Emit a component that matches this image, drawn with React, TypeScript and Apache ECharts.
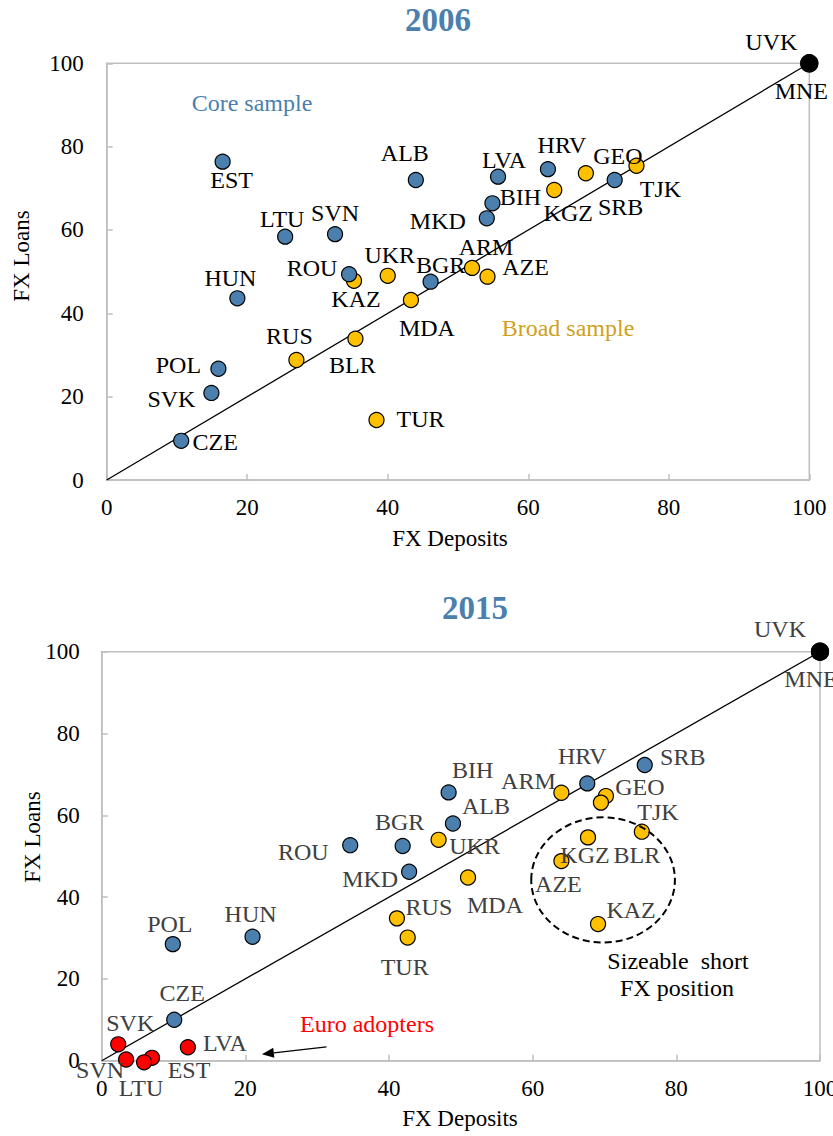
import React, { useEffect, useRef } from "react";
import * as echarts from "echarts";

// ---------- 2006 ----------
const core2006Names = ["EST", "ALB", "LVA", "HRV", "SRB", "MKD", "BIH", "LTU", "SVN", "BGR", "ROU", "HUN", "POL", "SVK", "CZE"];
const core2006Deposits = [16.5, 44.0, 55.7, 62.8, 72.3, 54.1, 54.9, 25.4, 32.5, 46.1, 34.5, 18.6, 15.9, 14.9, 10.6];
const core2006Loans = [76.4, 72.0, 72.8, 74.6, 72.0, 62.8, 66.4, 58.4, 59.0, 47.6, 49.4, 43.6, 26.7, 20.9, 9.4];

const broad2006Names = ["GEO", "TJK", "KGZ", "KAZ", "UKR", "ARM", "AZE", "MDA", "RUS", "BLR", "TUR"];
const broad2006Deposits = [68.2, 75.4, 63.7, 35.2, 40.0, 52.0, 54.2, 43.3, 27.0, 35.4, 38.4];
const broad2006Loans = [73.6, 75.4, 69.6, 47.8, 49.0, 50.9, 48.8, 43.2, 28.8, 33.9, 14.4];

// ---------- 2015 ----------
const euro2015Names = ["SVK", "SVN", "EST", "LTU", "LVA"];
const euro2015Deposits = [2.3, 3.4, 7.0, 5.9, 12.0];
const euro2015Loans = [4.0, 0.3, 0.7, -0.4, 3.3];

const broad2015Names = ["ARM", "GEO", "TJK", "BLR", "KGZ", "AZE", "KAZ", "UKR", "MDA", "RUS", "TUR"];
const broad2015Deposits = [64.0, 70.2, 69.5, 75.2, 67.7, 64.0, 69.1, 46.9, 51.0, 41.1, 42.6];
const broad2015Loans = [65.5, 64.7, 63.1, 56.0, 54.6, 48.8, 33.4, 54.0, 44.8, 34.8, 30.1];

const core2015Names = ["HRV", "SRB", "BIH", "ALB", "BGR", "ROU", "MKD", "HUN", "POL", "CZE"];
const core2015Deposits = [67.6, 75.6, 48.3, 48.9, 41.9, 34.6, 42.8, 21.0, 9.9, 10.1];
const core2015Loans = [67.8, 72.3, 65.6, 58.0, 52.5, 52.7, 46.2, 30.3, 28.5, 10.0];

// Countries at 100/100 in both years
const fullNames = ["UVK", "MNE"];
const fullDeposits = [100, 100];
const fullLoans = [100, 100];

const axisTicks = { min: 0, max: 100, interval: 20 };

// ---------- label placement (pixel offsets from marker centre) ----------
const off2006: Record<string, [number, number]> = {
  EST: [9, 18], ALB: [-11, -27], LVA: [6, -17], HRV: [14, -24], GEO: [32, -17], TJK: [24, 23],
  SRB: [6, 27], KGZ: [14, 23], BIH: [28, -6], MKD: [-49, 3], LTU: [-3, -18], SVN: [0, -21],
  ROU: [-37, -6], KAZ: [2, 18], UKR: [2, -21], BGR: [10, -17], ARM: [14, -21], AZE: [38, -10],
  MDA: [16, 28], HUN: [-7, -20], RUS: [-7, -24], BLR: [-3, 26], POL: [-40, -4], SVK: [-40, 6],
  TUR: [44, -1], CZE: [34, 1], UVK: [-38, -21], MNE: [-8, 28],
};
const off2015: Record<string, [number, number]> = {
  UVK: [-40, -23], MNE: [-9, 27], HRV: [-5, -27], SRB: [38, -8], ARM: [-33, -12], GEO: [34, -9],
  TJK: [57, 9], BLR: [-5, 23], KGZ: [-3, 18], AZE: [-3, 23], KAZ: [33, -14], BIH: [24, -22],
  ALB: [33, -17], BGR: [-3, -24], ROU: [-47, 7], UKR: [36, 6], MKD: [-39, 7], MDA: [27, 28],
  RUS: [32, -11], TUR: [-3, 29], HUN: [-2, -23], POL: [-3, -20], CZE: [8, -27], SVK: [12, -21],
  SVN: [-26, 11], LTU: [-3, 26], EST: [37, 12], LVA: [37, -4],
};

const FONT = "'Liberation Serif', 'Times New Roman', serif";
const BLUE = "#4a7fae";
const YELLOW = "#ffc000";
const GOLD = "#cfa11c";
const GREY = "#bfbfbf";

function scatter(
  id: string, names: string[], xs: number[], ys: number[], grid: number,
  color: string, offsets: Record<string, [number, number]>, labelColor: string, size = 15
) {
  return {
    id,
    type: "scatter",
    xAxisIndex: grid,
    yAxisIndex: grid,
    clip: false,
    symbol: "circle",
    symbolSize: size,
    itemStyle: { color, borderColor: "#000", borderWidth: 1.2, opacity: 1 },
    label: {
      show: true,
      position: "inside",
      formatter: "{b}",
      fontFamily: FONT,
      fontSize: 24,
      color: labelColor,
    },
    data: names.map((n, i) => ({
      name: n,
      value: [xs[i], ys[i]],
      label: { offset: offsets[n] || [0, 0] },
    })),
  };
}

function diag(grid: number) {
  return {
    type: "line",
    xAxisIndex: grid,
    yAxisIndex: grid,
    data: [[0, 0], [100, 100]],
    symbol: "none",
    silent: true,
    lineStyle: { color: "#000", width: 1.3 },
    z: 1,
  };
}

function xAxis(grid: number) {
  return {
    gridIndex: grid,
    type: "value",
    ...axisTicks,
    axisLine: { show: true, lineStyle: { color: GREY, width: 1.5 } },
    axisTick: { show: true, inside: true, length: 6, lineStyle: { color: GREY, width: 1.5 } },
    splitLine: { show: false },
    axisLabel: { fontFamily: FONT, fontSize: 23, color: "#000", margin: 16 },
  };
}
function yAxis(grid: number, margin: number) {
  return {
    gridIndex: grid,
    type: "value",
    ...axisTicks,
    axisLine: { show: true, lineStyle: { color: GREY, width: 1.5 } },
    axisTick: { show: true, inside: true, length: 6, lineStyle: { color: GREY, width: 1.5 } },
    splitLine: { show: false },
    axisLabel: { fontFamily: FONT, fontSize: 23, color: "#000", margin },
  };
}

function txt(text: string, x: number, y: number, size: number, fill: string, extra: any = {}) {
  return {
    type: "text",
    x,
    y,
    silent: true,
    style: { text, fontFamily: FONT, fontSize: size, fill, align: "center", verticalAlign: "middle", ...extra.style },
    rotation: extra.rotation || 0,
  };
}

export default function App() {
  const ref = useRef<HTMLDivElement>(null);
  useEffect(() => {
    if (!ref.current) return;
    const chart = echarts.init(ref.current, undefined, { renderer: "svg" });
    chart.setOption({
      animation: false,
      backgroundColor: "#fff",
      grid: [
        { left: 106.7, top: 63.3, width: 702.6, height: 416.7, show: true, borderColor: GREY, borderWidth: 1.5, backgroundColor: "transparent", containLabel: false, outerBoundsMode: "none" },
        { left: 101.7, top: 651.7, width: 718.3, height: 409, show: true, borderColor: GREY, borderWidth: 1.5, backgroundColor: "transparent", containLabel: false, outerBoundsMode: "none" },
      ],
      xAxis: [xAxis(0), xAxis(1)],
      yAxis: [yAxis(0, 23), yAxis(1, 22)],
      series: [
        diag(0),
        scatter("b06", broad2006Names, broad2006Deposits, broad2006Loans, 0, YELLOW, off2006, "#000"),
        scatter("c06", core2006Names, core2006Deposits, core2006Loans, 0, BLUE, off2006, "#000"),
        scatter("f06", fullNames, fullDeposits, fullLoans, 0, "#000", off2006, "#000", 17),
        diag(1),
        scatter("e15", euro2015Names, euro2015Deposits, euro2015Loans, 1, "#ff0000", off2015, "#404040"),
        scatter("b15", broad2015Names, broad2015Deposits, broad2015Loans, 1, YELLOW, off2015, "#404040"),
        scatter("c15", core2015Names, core2015Deposits, core2015Loans, 1, BLUE, off2015, "#404040"),
        scatter("f15", fullNames, fullDeposits, fullLoans, 1, "#000", off2015, "#404040", 17),
      ],
    });

    const p = (g: number, x: number, y: number) => chart.convertToPixel({ gridIndex: g } as any, [x, y]) as number[];
    // ellipse highlighting short FX positions (data coords)
    const ec = p(1, 69.8, 44.2);
    const ex = p(1, 79.8, 44.2);
    const ey = p(1, 69.8, 59.5);
    // arrow to euro adopters
    const a0 = p(1, 31.3, 3.4);
    const a1 = p(1, 22.3, 1.6);
    const dx = a1[0] - a0[0];
    const dy = a1[1] - a0[1];
    const len = Math.hypot(dx, dy);
    const ux = dx / len, uy = dy / len;
    const hl = 12, hw = 5;
    const base = [a1[0] - ux * hl, a1[1] - uy * hl];

    chart.setOption({
      graphic: [
        txt("2006", 438, 20, 33, BLUE, { style: { fontWeight: "bold" } }),
        txt("2015", 475, 608, 33, BLUE, { style: { fontWeight: "bold" } }),
        txt("FX Loans", 21, 256, 23, "#000", { rotation: Math.PI / 2 }),
        txt("FX Loans", 32, 837, 23, "#000", { rotation: Math.PI / 2 }),
        txt("FX Deposits", 450, 538, 23, "#000"),
        txt("FX Deposits", 460, 1118, 23, "#000"),
        txt("Core sample", 252, 103, 24, BLUE),
        txt("Broad sample", 568, 328, 24, GOLD),
        txt("Euro adopters", 367, 1024, 24, "#ff0000"),
        txt("Sizeable  short", 678, 961, 24, "#000"),
        txt("FX position", 677, 988, 24, "#000"),
        {
          type: "ellipse",
          silent: true,
          shape: { cx: ec[0], cy: ec[1], rx: Math.abs(ex[0] - ec[0]), ry: Math.abs(ey[1] - ec[1]) },
          style: { fill: "none", stroke: "#000", lineWidth: 2, lineDash: [7, 4] },
          z: 10,
        },
        {
          type: "line",
          silent: true,
          shape: { x1: a0[0], y1: a0[1], x2: base[0], y2: base[1] },
          style: { stroke: "#000", lineWidth: 1.3 },
        },
        {
          type: "polygon",
          silent: true,
          shape: {
            points: [
              [a1[0], a1[1]],
              [base[0] - uy * hw, base[1] + ux * hw],
              [base[0] + uy * hw, base[1] - ux * hw],
            ],
          },
          style: { fill: "#000" },
        },
      ],
    });
    return () => chart.dispose();
  }, []);
  return <div ref={ref} style={{ position: "absolute", left: 0, top: 0, width: 833, height: 1136 }} />;
}
